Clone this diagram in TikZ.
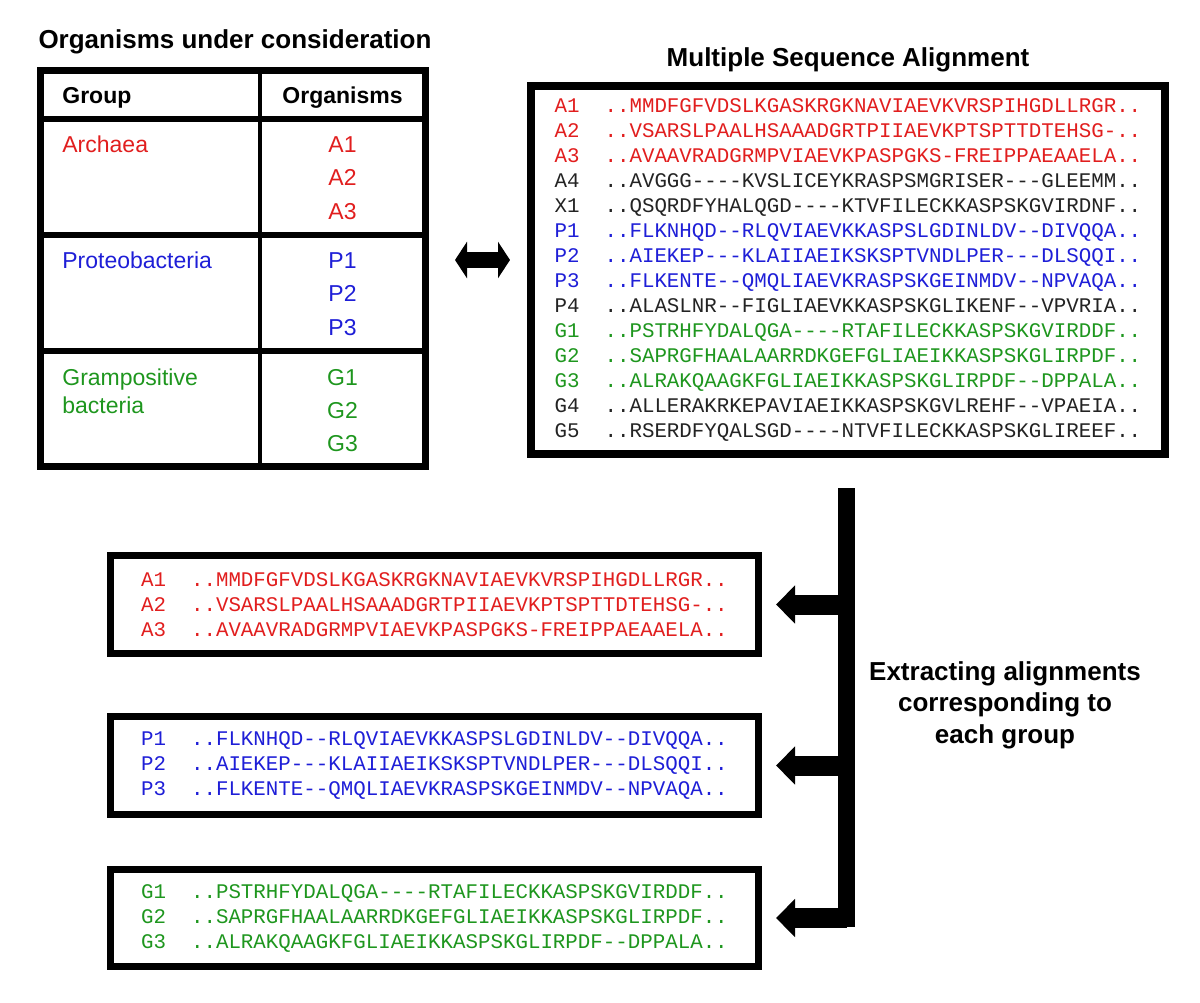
\documentclass[tikz,border=0pt]{standalone}
\usepackage{fontspec}
\setmainfont{Liberation Sans}
\setmonofont{Liberation Mono}
\usetikzlibrary{arrows.meta}

\definecolor{arch}{RGB}{225,30,30}
\definecolor{prot}{RGB}{30,30,215}
\definecolor{gram}{RGB}{30,150,30}
\definecolor{other}{RGB}{35,35,35}

\newlength{\lblw}
\setlength{\lblw}{24.96pt}
\newcommand{\sq}[3]{\textcolor{#1}{\makebox[\lblw][l]{#2}#3}}

\begin{document}
\begin{tikzpicture}[x=0.5pt, y=-0.5pt]
				\tikzstyle{title}=[font=\fontsize{13pt}{15.75pt}\selectfont\bfseries, inner sep=0pt]
				\tikzstyle{cell}=[font=\fontsize{11.5pt}{14pt}\selectfont, inner sep=0pt]
				\tikzstyle{box}=[draw, line width=3.5pt, inner sep=0pt, align=left, font=\ttfamily\fontsize{10.4pt}{12.5pt}\selectfont]
				\tikzstyle{fat}=[line width=10pt, -{Triangle[length=9.5pt,width=18.5pt]}, shorten >=7pt]
				\tikzstyle{dbl}=[line width=8pt, {Triangle[length=6pt,width=18pt]}-{Triangle[length=6pt,width=18pt]}, shorten <=13pt, shorten >=8.5pt]

				\useasboundingbox (0,0) rectangle (1200,1002);

				% organisms table
				\node[title, anchor=base] (orgtitle) at (235,48) {Organisms under consideration};
				\node[draw, line width=3.5pt, minimum width=192.5pt, minimum height=198pt] (table) at (233,268.5) {};
				\draw[line width=2pt] (260,70) -- (260,467);
				\foreach \y in {118.5,234.5,351}
				\draw[line width=3pt] (40,\y) -- (426,\y);

				\node[cell, anchor=base west] (grp) at (62,103) {\bfseries Group};
				\node[cell, anchor=base] (org) at (342.5,103) {\bfseries Organisms};
				\node[cell, text=arch, anchor=base west] (archaea) at (62,152) {Archaea};
				\node[cell, text=prot, anchor=base west] (proteo) at (62,268) {Proteobacteria};
				\node[cell, text=gram, anchor=base west] (gpos) at (62,385) {Grampositive};
				\node[cell, text=gram, anchor=base west] (gbact) at (62,413) {bacteria};
				\foreach \n/\y in {1/152,2/185,3/219}
				\node[cell, text=arch, anchor=base] (a\n) at (342.5,\y) {A\n};
				\foreach \n/\y in {1/268,2/301,3/335}
				\node[cell, text=prot, anchor=base] (p\n) at (342.5,\y) {P\n};
				\foreach \n/\y in {1/385,2/418,3/451}
				\node[cell, text=gram, anchor=base] (g\n) at (342.5,\y) {G\n};

				% full alignment
				\node[title, anchor=base] (msatitle) at (848,66) {Multiple Sequence Alignment};
				\node[box, line width=4pt, minimum width=317pt, minimum height=184pt] (msa) at (848,270) {
					\sq{arch}{A1}{..MMDFGFVDSLKGASKRGKNAVIAEVKVRSPIHGDLLRGR..}\\
					\sq{arch}{A2}{..VSARSLPAALHSAAADGRTPIIAEVKPTSPTTDTEHSG-..}\\
					\sq{arch}{A3}{..AVAAVRADGRMPVIAEVKPASPGKS-FREIPPAEAAELA..}\\
					\sq{other}{A4}{..AVGGG----KVSLICEYKRASPSMGRISER---GLEEMM..}\\
					\sq{other}{X1}{..QSQRDFYHALQGD----KTVFILECKKASPSKGVIRDNF..}\\
					\sq{prot}{P1}{..FLKNHQD--RLQVIAEVKKASPSLGDINLDV--DIVQQA..}\\
					\sq{prot}{P2}{..AIEKEP---KLAIIAEIKSKSPTVNDLPER---DLSQQI..}\\
					\sq{prot}{P3}{..FLKENTE--QMQLIAEVKRASPSKGEINMDV--NPVAQA..}\\
					\sq{other}{P4}{..ALASLNR--FIGLIAEVKKASPSKGLIKENF--VPVRIA..}\\
					\sq{gram}{G1}{..PSTRHFYDALQGA----RTAFILECKKASPSKGVIRDDF..}\\
					\sq{gram}{G2}{..SAPRGFHAALAARRDKGEFGLIAEIKKASPSKGLIRPDF..}\\
					\sq{gram}{G3}{..ALRAKQAAGKFGLIAEIKKASPSKGLIRPDF--DPPALA..}\\
					\sq{other}{G4}{..ALLERAKRKEPAVIAEIKKASPSKGVLREHF--VPAEIA..}\\
					\sq{other}{G5}{..RSERDFYQALSGD----NTVFILECKKASPSKGLIREEF..}};

				\coordinate (dblrow) at (0,260);
				\draw[dbl] (table.east |- dblrow) -- (msa.west |- dblrow);

				% extracted groups
				\node[box, minimum width=324pt, minimum height=49pt] (boxA) at (434.5,604.5) {
					\sq{arch}{A1}{..MMDFGFVDSLKGASKRGKNAVIAEVKVRSPIHGDLLRGR..}\\
					\sq{arch}{A2}{..VSARSLPAALHSAAADGRTPIIAEVKPTSPTTDTEHSG-..}\\
					\sq{arch}{A3}{..AVAAVRADGRMPVIAEVKPASPGKS-FREIPPAEAAELA..}};
				\node[box, minimum width=324pt, minimum height=49pt] (boxP) [below of=boxA, node distance=80.5pt] {
					\sq{prot}{P1}{..FLKNHQD--RLQVIAEVKKASPSLGDINLDV--DIVQQA..}\\
					\sq{prot}{P2}{..AIEKEP---KLAIIAEIKSKSPTVNDLPER---DLSQQI..}\\
					\sq{prot}{P3}{..FLKENTE--QMQLIAEVKRASPSKGEINMDV--NPVAQA..}};
				\node[box, minimum width=324pt, minimum height=48.5pt] (boxG) [below of=boxP, node distance=76.25pt] {
					\sq{gram}{G1}{..PSTRHFYDALQGA----RTAFILECKKASPSKGVIRDDF..}\\
					\sq{gram}{G2}{..SAPRGFHAALAARRDKGEFGLIAEIKKASPSKGLIRPDF..}\\
					\sq{gram}{G3}{..ALRAKQAAGKFGLIAEIKKASPSKGLIRPDF--DPPALA..}};

				\node[fill, minimum width=8.5pt, minimum height=219.5pt, inner sep=0pt, outer sep=0pt] (bar) at (846.5,707.5) {};
				\foreach \grp in {boxA,boxP,boxG}
				\draw[fat] (bar.center |- \grp.east) -- (\grp.east);

				\node[title, align=center] (extract) at (1005,705) {Extracting alignments\\corresponding to\\each group};
			\end{tikzpicture}
\end{document}
